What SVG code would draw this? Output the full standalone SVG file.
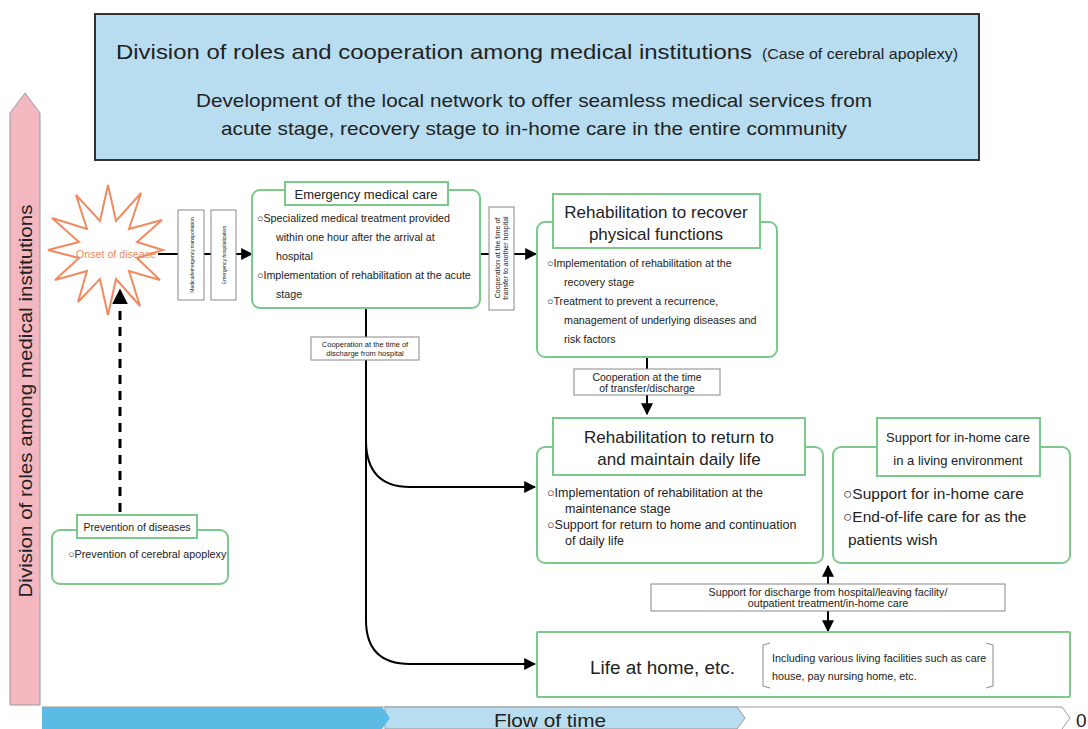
<svg xmlns="http://www.w3.org/2000/svg" width="1088" height="729" viewBox="0 0 1088 729">
<defs>
<marker id="ahb" viewBox="0 0 10 10" refX="9" refY="5" markerWidth="12" markerHeight="12" markerUnits="userSpaceOnUse" orient="auto"><path d="M0,0 L10,5 L0,10 z" fill="#000"/></marker>
<marker id="ahl" viewBox="0 0 10 10" refX="9" refY="5" markerWidth="16" markerHeight="16" markerUnits="userSpaceOnUse" orient="auto"><path d="M0,0 L10,5 L0,10 z" fill="#000"/></marker>
<style>
text{font-family:"Liberation Sans",Arial,sans-serif;fill:#222}
.gbox{fill:#fff;stroke:#7dc98b;stroke-width:2}
.lbl{fill:#fff;stroke:#888;stroke-width:1}
.sm{font-size:10.7px}
.hd{font-size:17px}
.ln{stroke:#000;stroke-width:2;fill:none}
</style>
</defs>
<rect width="1088" height="729" fill="#fff"/>
<g id="title">
<rect x="95" y="14" width="884" height="146" fill="#b8ddf1" stroke="#333" stroke-width="2"/>
<text x="116" y="59" font-size="21" textLength="636" lengthAdjust="spacingAndGlyphs">Division of roles and cooperation among medical institutions</text>
<text x="762" y="59" font-size="15" textLength="196" lengthAdjust="spacingAndGlyphs">(Case of cerebral apoplexy)</text>
<text x="534" y="107" font-size="19" text-anchor="middle" textLength="676" lengthAdjust="spacingAndGlyphs">Development of the local network to offer seamless medical services from</text>
<text x="534" y="135" font-size="19" text-anchor="middle" textLength="626" lengthAdjust="spacingAndGlyphs">acute stage, recovery stage to in-home care in the entire community</text>
</g>
<g id="roles-axis">
<path d="M10,705 L10,113 L25,93 L40,113 L40,705 Z" fill="#f4b6bf" stroke="#999" stroke-width="1"/>
<text transform="translate(32,401) rotate(-90)" font-size="19" text-anchor="middle" textLength="393" lengthAdjust="spacingAndGlyphs">Division of roles among medical institutions</text>
</g>
<g id="time-axis">
<path d="M42,707 L1062,707 L1070,718 L1062,729" fill="#fff" stroke="#999" stroke-width="1"/>
<path d="M385,707 L737,707 L745,718 L737,729 L385,729 Z" fill="#b8ddf1" stroke="#999" stroke-width="1"/>
<path d="M42,707 L382,707 L390,718 L382,729 L42,729 Z" fill="#5bbbe4"/>
<text x="550" y="727" font-size="19" text-anchor="middle" textLength="112" lengthAdjust="spacingAndGlyphs">Flow of time</text>
<text x="1076" y="727" font-size="19">0</text>
</g>
<g id="connectors">
<line x1="158" y1="254" x2="178" y2="254" class="ln"/>
<line x1="204" y1="254" x2="211" y2="254" class="ln"/>
<line x1="236" y1="254" x2="252" y2="254" class="ln" marker-end="url(#ahb)"/>
<line x1="480" y1="254" x2="489" y2="254" class="ln"/>
<line x1="514" y1="254" x2="536" y2="254" class="ln" marker-end="url(#ahb)"/>
<line x1="120" y1="512" x2="120" y2="290" stroke="#000" stroke-width="3" stroke-dasharray="9,7" marker-end="url(#ahl)"/>
<line x1="647" y1="357" x2="647" y2="414" class="ln" marker-end="url(#ahb)"/>
<path d="M366,308 L366,440 Q366,487 410,487 L535,487" class="ln" marker-end="url(#ahb)"/>
<path d="M366,440 L366,620 Q366,664 410,664 L535,664" class="ln" marker-end="url(#ahb)"/>
<line x1="828" y1="584" x2="828" y2="566" class="ln" marker-end="url(#ahb)"/>
<line x1="828" y1="611" x2="828" y2="631" class="ln" marker-end="url(#ahb)"/>
</g>
<g id="onset">
<path d="M163,250 L137,258 L160,280 L129,271 L140,306 L116,279 L108,315 L100,279 L78,302 L87,271 L55,280 L79,258 L48,250 L79,242 L52,218 L87,229 L76,195 L100,221 L108,185 L116,221 L141,193 L129,229 L162,220 L137,242 Z" fill="#fff" stroke="#f08a5f" stroke-width="2"/>
<text x="116" y="258" font-size="11" style="fill:#f08a5f" text-anchor="middle" textLength="80" lengthAdjust="spacingAndGlyphs">Onset of disease</text>
</g>
<g id="transport">
<rect x="178" y="210" width="26" height="90" class="lbl"/>
<text transform="translate(194,255) rotate(-90)" font-size="5" text-anchor="middle">Medical/emergency transportation</text>
</g>
<g id="hospitalization">
<rect x="211" y="210" width="25" height="90" class="lbl"/>
<text transform="translate(226,255) rotate(-90)" font-size="5" text-anchor="middle">Emergency hospitalization</text>
</g>
<g id="emergency">
<rect x="252" y="190" width="228" height="118" rx="8" class="gbox"/>
<rect x="285" y="182" width="163" height="23" class="gbox"/>
<text x="366" y="199" font-size="13" text-anchor="middle">Emergency medical care</text>
<text x="257" y="222" class="sm">○Specialized medical treatment provided</text>
<text x="276" y="241" class="sm">within one hour after the arrival at</text>
<text x="276" y="260" class="sm">hospital</text>
<text x="257" y="279" class="sm">○Implementation of rehabilitation at the acute</text>
<text x="276" y="298" class="sm">stage</text>
</g>
<g id="transfer">
<rect x="489" y="207" width="25" height="103" class="lbl"/>
<text transform="translate(500,258) rotate(-90)" font-size="7" text-anchor="middle">Cooperation at the time of</text>
<text transform="translate(508,258) rotate(-90)" font-size="7" text-anchor="middle">transfer to another hospital</text>
</g>
<g id="discharge-label">
<rect x="311" y="337" width="108" height="23" class="lbl"/>
<text x="365" y="347" font-size="7.5" text-anchor="middle">Cooperation at the time of</text>
<text x="365" y="356" font-size="7.5" text-anchor="middle">discharge from hospital</text>
</g>
<g id="recover">
<rect x="537" y="222" width="240" height="135" rx="8" class="gbox"/>
<rect x="553" y="194" width="207" height="54" class="gbox"/>
<text x="656" y="218" class="hd" text-anchor="middle">Rehabilitation to recover</text>
<text x="656" y="240" class="hd" text-anchor="middle">physical functions</text>
<text x="547" y="267" class="sm">○Implementation of rehabilitation at the</text>
<text x="564" y="286" class="sm">recovery stage</text>
<text x="547" y="305" class="sm">○Treatment to prevent a recurrence,</text>
<text x="564" y="324" class="sm">management of underlying diseases and</text>
<text x="564" y="343" class="sm">risk factors</text>
</g>
<g id="transfer-discharge">
<rect x="574" y="369" width="146" height="26" class="lbl"/>
<text x="647" y="381" font-size="10.5" text-anchor="middle">Cooperation at the time</text>
<text x="647" y="392" font-size="10.5" text-anchor="middle">of transfer/discharge</text>
</g>
<g id="maintain">
<rect x="537" y="447" width="286" height="116" rx="8" class="gbox"/>
<rect x="553" y="418" width="252" height="57" class="gbox"/>
<text x="679" y="443" class="hd" text-anchor="middle">Rehabilitation to return to</text>
<text x="679" y="465" class="hd" text-anchor="middle">and maintain daily life</text>
<text x="547" y="497" font-size="12.5">○Implementation of rehabilitation at the</text>
<text x="565" y="513" font-size="12.5">maintenance stage</text>
<text x="547" y="529" font-size="12.5">○Support for return to home and continuation</text>
<text x="565" y="545" font-size="12.5">of daily life</text>
</g>
<g id="inhome">
<rect x="833" y="447" width="237" height="116" rx="8" class="gbox"/>
<rect x="877" y="418" width="163" height="58" class="gbox"/>
<text x="958" y="442" font-size="13" text-anchor="middle">Support for in-home care</text>
<text x="958" y="465" font-size="13" text-anchor="middle">in a living environment</text>
<text x="843" y="499" font-size="15.5">○Support for in-home care</text>
<text x="843" y="522" font-size="15.5">○End-of-life care for as the</text>
<text x="848" y="545" font-size="15.5">patients wish</text>
</g>
<g id="prevention">
<rect x="52" y="530" width="176" height="54" rx="8" class="gbox"/>
<rect x="77" y="515" width="120" height="23" class="gbox"/>
<text x="137" y="531" font-size="10.6" text-anchor="middle">Prevention of diseases</text>
<text x="68" y="558" font-size="10.8">○Prevention of cerebral apoplexy</text>
</g>
<g id="discharge-support">
<rect x="651" y="584" width="354" height="27" class="lbl"/>
<text x="828" y="596" font-size="10.7" text-anchor="middle">Support for discharge from hospital/leaving facility/</text>
<text x="828" y="607" font-size="10.7" text-anchor="middle">outpatient treatment/in-home care</text>
</g>
<g id="home">
<rect x="537" y="632" width="533" height="65" class="gbox" rx="1"/>
<text x="590" y="674" font-size="18" textLength="145" lengthAdjust="spacingAndGlyphs">Life at home, etc.</text>
<path d="M770,643 L763,645 L763,686 L770,688 M986,643 L993,645 L993,686 L986,688" fill="none" stroke="#888" stroke-width="1"/>
<text x="772" y="662" font-size="10.8">Including various living facilities such as care</text>
<text x="772" y="680" font-size="10.8">house, pay nursing home, etc.</text>
</g>
</svg>
